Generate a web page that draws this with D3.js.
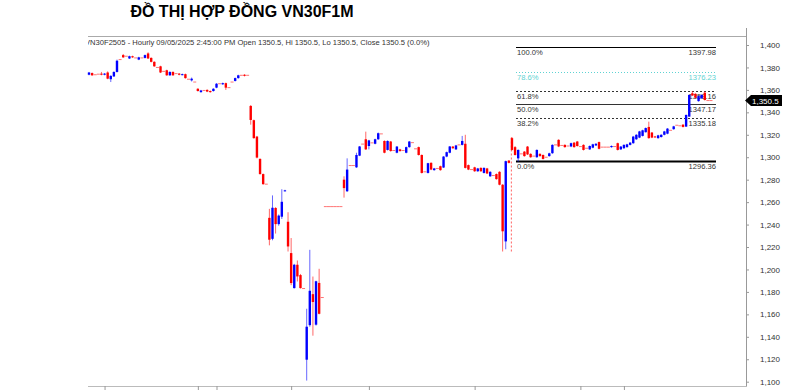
<!DOCTYPE html>
<html>
<head>
<meta charset="utf-8">
<script src="https://cdn.jsdelivr.net/npm/d3@7"></script>
<style>
  body { margin: 0; background: #fff; }
  svg { display: block; font-family: "Liberation Sans", Arial, sans-serif; }
</style>
</head>
<body>
<svg id="chart" width="793" height="390"></svg>
<script>
// hourly candles: [open, high, low, close]
const candles = [
  [1373.5,1376,1373,1375.5],[1375,1375.5,1372.5,1373],[1373.5,1374,1373,1373.5],[1374,1374.5,1373.5,1374],
  [1374.5,1376,1373,1373.5],[1373.5,1375,1373,1374.5],[1375.5,1376.5,1369.5,1370],[1369.5,1373,1367,1372.5],
  [1372,1376.5,1371.5,1376],[1376,1387,1375.5,1386],[1387,1387.5,1386.5,1387],[1391,1392,1388.5,1389],
  [1390,1390.5,1389.5,1390],[1388,1390.5,1387.5,1390],[1390,1390.5,1388.5,1389],[1388.5,1389,1388,1388.5],
  [1387,1389.5,1386.5,1389],[1388.5,1389,1388,1388.5],[1388.5,1391.5,1388,1391],[1392.5,1393.5,1387.5,1388],
  [1388.5,1389,1384.5,1385],[1385,1385.5,1380.5,1381],[1380,1380.5,1379.5,1380],[1381,1381.5,1375,1375.5],
  [1376.5,1377,1376,1376.5],[1377.5,1378,1372.5,1373],[1373,1376.5,1372.5,1376],[1376,1376.5,1372.5,1373],
  [1374.5,1375,1374,1374.5],[1374.5,1375,1373,1373.5],[1373.5,1374.5,1373,1374],[1374,1374.5,1370,1370.5],
  [1369.5,1370,1369,1369.5],[1368.5,1371,1367.5,1370],[1367,1367.5,1366.5,1367],[1361,1361.5,1358.5,1359],
  [1358,1360,1357.5,1359.5],[1359.5,1360,1359,1359.5],[1360,1360.5,1358,1358.5],[1359,1359.5,1357.5,1358],
  [1359,1361.5,1358.5,1361],[1362,1366,1361.5,1365.5],[1365.5,1366,1365,1365.5],[1365,1366.5,1364.5,1366],
  [1366,1366.5,1360,1362],[1362,1363,1359.5,1362],[1367,1367.5,1366.5,1367],[1368,1371,1367.5,1370.5],
  [1370.5,1373.5,1370,1373],[1373,1373.5,1372.5,1373],[1373.5,1374,1372,1372.5],[1373,1373.5,1372.5,1373],
  [1345.7,1346.5,1329,1333.2],[1333,1333.5,1316.5,1317],[1318.4,1319,1299,1299.7],[1298.5,1299,1284.5,1285],
  [1285,1285.5,1275.5,1276],[1276,1276.5,1275.5,1276],[1246,1254,1221.5,1226.5],[1227.3,1266,1226,1255],
  [1254.8,1255.5,1232,1240.4],[1240.4,1249,1239,1248],[1247,1271.5,1245,1260.3],[1269.8,1271,1269.5,1270.5],
  [1242.5,1251,1216,1220.5],[1214.6,1228,1186,1187.9],[1183.4,1205,1183,1204.2],[1204.2,1208,1189.3,1193.8],
  [1195,1196,1183,1183.4],[1183,1183.5,1182.5,1183],[1119.6,1165,1101,1149],[1150.4,1217.5,1149,1181],
  [1178,1193.7,1141,1171],[1150.8,1190,1150,1189.5],[1188,1200.6,1160,1160.5],[1175,1175.5,1174.5,1175],
  [1256,1256,1256,1256],[1256,1256,1256,1256],[1256,1256,1256,1256],[1256,1256,1256,1256],
  [1256,1256,1256,1256],[1256,1256,1256,1256],
  [1280,1283,1264,1272.5],[1269.7,1299,1269,1289],[1292.6,1293,1292,1292.6],[1292.6,1293,1292,1292.6],
  [1291,1304,1290.5,1302],[1301.4,1310,1301,1309.6],[1311.7,1312.2,1311.2,1311.7],[1316,1322.8,1306.5,1307],
  [1310,1315.5,1307,1315],[1312.8,1313.3,1312.3,1312.8],[1312,1316.5,1311.5,1316],[1316,1322,1315.5,1321.4],
  [1320.8,1321.3,1320.3,1320.8],[1314.5,1315,1303.5,1304],[1306.5,1315,1306,1314.5],[1314,1314.5,1305,1305.5],
  [1306,1306.5,1305.5,1306],[1304,1310,1303.5,1309.5],[1307,1307.5,1305,1305.5],[1306,1306.5,1305.5,1306],
  [1304,1309.5,1303.5,1309],[1309,1314.5,1308.5,1314],[1313,1313.5,1312.5,1313],[1307.5,1308,1307,1307.5],
  [1309,1309.5,1301.5,1302],[1302,1302.5,1285.5,1286],[1287,1287.5,1286.5,1287],[1286,1295,1285.5,1294.7],
  [1295,1295.5,1288.5,1289],[1288.5,1290.5,1288,1290],[1290,1290.5,1289.5,1290],[1292,1292.5,1288,1288.5],
  [1290.8,1301,1290.5,1300.6],[1300.6,1305,1300,1304.5],[1304,1310,1303.5,1309.6],[1309.5,1310,1307.5,1308],
  [1307,1311,1306.5,1310.5],[1311,1311.5,1310.5,1311],[1311,1319,1310.5,1314.5],[1312,1320,1290,1290.5],
  [1293,1293.5,1288.5,1289],[1289,1289.5,1288.5,1289],[1291,1291.5,1287,1287.5],[1287.5,1290.5,1287,1290],
  [1290.5,1291,1287,1287.5],[1286,1291,1285.5,1290.5],[1290,1290.5,1285,1285.5],[1283,1287.5,1282.5,1287],
  [1283.7,1284.2,1283.2,1283.7],[1285,1285.5,1280,1280.5],[1287,1287.5,1275,1275.5],[1275.5,1276,1216,1234],
  [1225,1297,1218,1296.5],[1297,1297.5,1294.5,1295],[1317,1318,1306,1306.5],[1309,1310,1301.5,1302],
  [1299,1307,1296,1306.5],[1303,1303.5,1302.5,1303],[1305,1305.5,1300.5,1301],[1309.5,1310,1302,1302.5],
  [1303,1303.5,1299.5,1300],[1301,1301.5,1300.5,1301],[1300,1307,1299.5,1306.5],[1303,1303.5,1300.5,1301],
  [1302,1302.5,1298,1298.5],[1300,1300.5,1299.5,1300],[1301,1304,1300.5,1303.5],[1303.6,1311.5,1303,1311],
  [1311,1311.5,1310.5,1311],[1315.5,1316,1309,1309.6],[1310.5,1311,1310,1310.5],[1311,1311.5,1308.5,1309],
  [1310,1310.5,1309.5,1310],[1309.6,1313,1309,1312.5],[1313,1313.5,1308.5,1309],[1314,1314.5,1309.5,1310],
  [1309.5,1310,1309,1309.5],[1311,1311.5,1306,1306.5],[1308,1308.5,1307.5,1308],[1307,1310.5,1306.5,1310],
  [1308.5,1312,1308,1311.5],[1310.5,1312.5,1310,1312],[1313.5,1314,1307,1307.5],[1309,1309.5,1308.5,1309],
  [1309,1309.5,1308.5,1309],[1309,1309.5,1308.5,1309],[1309,1310.5,1308.5,1310],[1309.5,1310,1309,1309.5],
  [1312.5,1313,1306,1306.5],[1307,1310,1306.5,1309.5],[1308,1311.5,1307.5,1311],[1309,1312,1308.5,1311.5],
  [1311,1313.5,1310.5,1313],[1312.5,1319,1312,1318.4],[1316,1320.5,1315.5,1320],[1317.5,1323.5,1317,1323],
  [1319,1324.5,1318.5,1324],[1322.3,1326.5,1322,1326],[1327,1331.7,1316.5,1317],[1322,1322.5,1317,1317.5],
  [1318.5,1319,1317.5,1318],[1317,1320,1316.5,1319.5],[1318,1320.5,1317.5,1320],[1320,1323.5,1319.5,1323],
  [1321,1326,1320.5,1325.5],[1324,1324.5,1323.5,1324],[1325,1328,1324.5,1327.5],[1328.5,1329,1328,1328.5],
  [1328,1328.5,1327.5,1328],[1329,1329.5,1326.5,1327],[1327.3,1338,1327,1337.7],[1336.2,1356,1336,1355.5],
  [1357,1359,1354.5,1355],[1356.5,1357,1352.5,1353],[1350,1355,1349.5,1354.5],[1352.5,1356,1352,1355.5],
  [1357.5,1359,1350.5,1351],[1350.5,1351,1350,1350.5],[1350.5,1350.5,1350.5,1350.5]
];

const fibLabels = ["100.0%", "78.6%", "61.8%", "50.0%", "38.2%", "0.0%"];
const fibPrices = [1397.98, 1376.23, 1359.16, 1347.17, 1335.18, 1296.36];

const priceTicks = [1100, 1120, 1140, 1160, 1180, 1200, 1220, 1240, 1260, 1280, 1300, 1320, 1340, 1360, 1380, 1400];
const dateTickIdx = [5, 35, 41, 65, 90, 124, 158, 172];
const dateTickLabels = ["7", "14", "16", "21", "28", "May", "5", "7"];

const lastPrice = 1350.5;
const fibAnchorLow = 1216, fibAnchorHigh = 1318, fibAnchorIdx = 135;

const titleText = "ĐỒ THỊ HỢP ĐỒNG VN30F1M";
const headerText = "VN30F2505 - Hourly 09/05/2025 2:45:00 PM Open 1350.5, Hi 1350.5, Lo 1350.5, Close 1350.5 (0.0%)";

function main() {
    const svg = d3.select("svg#chart");
    const left = 88, right = 746, bottom = 386;

    const x = d3.scalePoint().domain(d3.range(candles.length)).range([89, 711]);
    const y = d3.scaleLinear().domain([1100, 1400]).range([381.7, 45]);

    svg.append("clipPath").attr("id", "plotClip")
        .append("rect").attr("x", left).attr("y", 0).attr("width", right - left).attr("height", bottom);

    // title
    svg.append("text").text(titleText)
        .attr("x", 242).attr("y", 17)
        .attr("text-anchor", "middle")
        .attr("font-size", 16).attr("font-weight", "bold")
        .attr("fill", "#000");

    // header strip
    svg.append("line")
        .attr("x1", left).attr("x2", right).attr("y1", 36.5).attr("y2", 36.5)
        .attr("stroke", "#aaa");
    svg.append("text").text(headerText)
        .attr("clip-path", "url(#plotClip)")
        .attr("x", 85).attr("y", 44.5)
        .attr("font-size", 7.6).attr("fill", "#333");

    DrawFib(svg, y);
    DrawCandles(svg, x, y);
    DrawAxes(svg, x, y, left, right, bottom);
}

function DrawFib(svg, y) {
    const x0 = 516, x1 = 716;
    const styles = [
        {stroke: "#000", width: 1.2, dash: null, text: "#333"},
        {stroke: "#5fd3d3", width: 1, dash: "1,2", text: "#5fd3d3"},
        {stroke: "#333", width: 1, dash: "2,2", text: "#333"},
        {stroke: "#333", width: 1, dash: null, text: "#333"},
        {stroke: "#333", width: 1, dash: "2,2", text: "#333"},
        {stroke: "#000", width: 2, dash: null, text: "#333"}
    ];
    fibPrices.forEach((p, i) => {
        const yy = Math.round(y(p)) + 0.5;
        const st = styles[i];
        svg.append("line")
            .attr("x1", x0).attr("x2", x1).attr("y1", yy).attr("y2", yy)
            .attr("stroke", st.stroke).attr("stroke-width", st.width)
            .attr("stroke-dasharray", st.dash);
        svg.append("text").text(fibLabels[i])
            .attr("x", x0 + 1).attr("y", yy + 7.5)
            .attr("font-size", 7.6).attr("fill", st.text);
        svg.append("text").text(p.toFixed(2))
            .attr("x", x1).attr("y", yy + 7.5)
            .attr("text-anchor", "end")
            .attr("font-size", 7.6).attr("fill", st.text);
    });
}

function DrawCandles(svg, x, y) {
    const g = svg.append("g");
    const bw = 2.4;
    // dotted anchor of the fibonacci tool
    g.append("line")
        .attr("x1", x(fibAnchorIdx) + 2.5).attr("x2", x(fibAnchorIdx) + 2.5)
        .attr("y1", y(fibAnchorLow)).attr("y2", y(fibAnchorHigh))
        .attr("stroke", "#ff6060").attr("stroke-width", 1)
        .attr("stroke-dasharray", "2,2");

    candles.forEach((d, i) => {
        const [o, h, l, c] = d;
        const cx = x(i);
        const col = c > o ? "#0000ff" : "#ff0000";
        if (o === c) {
            g.append("line")
                .attr("x1", cx - 1.5).attr("x2", cx + 1.5)
                .attr("y1", y(c)).attr("y2", y(c))
                .attr("stroke", "#ff0000").attr("stroke-opacity", 0.55);
            return;
        }
        if (h - l > Math.abs(o - c)) {
            g.append("line")
                .attr("x1", cx).attr("x2", cx)
                .attr("y1", y(h)).attr("y2", y(l))
                .attr("stroke", col).attr("stroke-opacity", 0.6);
        }
        g.append("rect")
            .attr("x", cx - bw / 2)
            .attr("y", y(Math.max(o, c)))
            .attr("width", bw)
            .attr("height", Math.max(1, y(Math.min(o, c)) - y(Math.max(o, c))))
            .attr("fill", col);
    });
}

function DrawAxes(svg, x, y, left, right, bottom) {
    const yAxis = svg.append("g")
        .attr("transform", "translate(" + right + ",0)")
        .call(d3.axisRight(y).tickValues(priceTicks).tickFormat(d3.format(",")).tickSize(3).tickPadding(11));
    yAxis.select(".domain").attr("stroke", "#999").attr("d", "M0.5,28V" + bottom);
    yAxis.selectAll(".tick line").attr("stroke", "#999");
    yAxis.selectAll("text").attr("font-size", 8).attr("fill", "#333")
        .attr("font-family", "Liberation Sans, Arial, sans-serif");

    // last price marker
    const py = y(lastPrice);
    svg.append("path")
        .attr("d", "M" + (right - 1) + "," + py + "L" + (right + 5) + "," + (py - 5.5) +
            "L" + (right + 36) + "," + (py - 5.5) + "L" + (right + 36) + "," + (py + 5.5) +
            "L" + (right + 5) + "," + (py + 5.5) + "Z")
        .attr("fill", "#000");
    svg.append("text").text(d3.format(",.1f")(lastPrice))
        .attr("x", right + 6).attr("y", py + 3)
        .attr("font-size", 8).attr("fill", "#fff");

    // bottom time axis, labels fall mostly outside the frame
    const xAxis = svg.append("g")
        .attr("transform", "translate(0," + bottom + ")")
        .call(d3.axisBottom(x).tickValues(dateTickIdx)
            .tickFormat((d, i) => dateTickLabels[i]).tickSize(4).tickPadding(1));
    xAxis.select(".domain").attr("stroke", "#bbb").attr("d", "M" + left + ",0.5H" + (right + 1));
    xAxis.selectAll(".tick line").attr("stroke", "#999");
    xAxis.selectAll("text").attr("font-size", 8).attr("fill", "#333")
        .attr("text-anchor", "start").attr("dx", 2);
}

main()
</script>
</body>
</html>
